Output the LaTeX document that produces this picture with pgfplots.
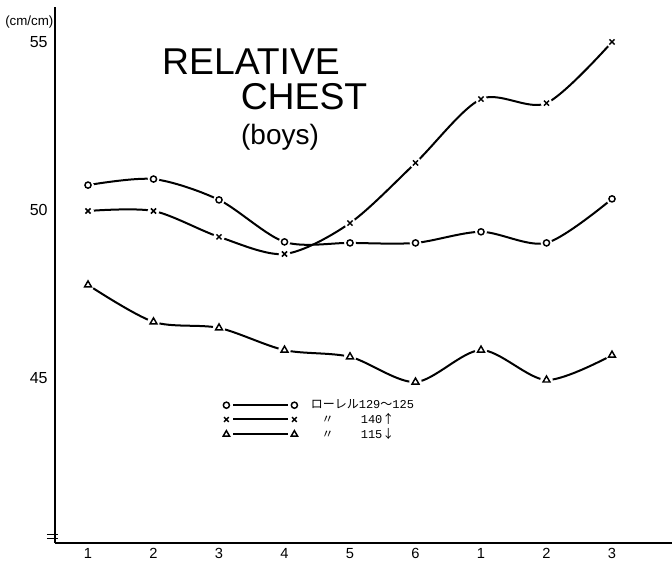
\documentclass[border=0pt]{standalone}
\usepackage{pgfplots}
\usepackage{pgfplotstable}
\pgfplotsset{compat=1.18}
\usepackage{fontspec}
\setmainfont{Liberation Sans}
\newfontfamily\cjk{Noto Sans CJK JP}
\newfontfamily\mono{Liberation Mono}

\pgfplotstableread{
x y
1 50.74
2 50.92
3 50.30
4 49.05
5 49.02
6 49.02
7 49.35
8 49.02
9 50.33
}\tabO
\pgfplotstableread{
x y
1 49.97
2 49.97
3 49.20
4 48.69
5 49.61
6 51.40
7 53.30
8 53.18
9 55.00
}\tabX
\pgfplotstableread{
x y
1 47.77
2 46.67
3 46.49
4 45.83
5 45.63
6 44.88
7 45.83
8 44.94
9 45.68
}\tabT

\begin{document}
\begin{tikzpicture}
\useasboundingbox (0,0) rectangle (504pt,420.75pt);
\begin{axis}[
  at={(41.25pt,13.5pt)}, anchor=south west,
  scale only axis, width=462.75pt, height=402pt,
  xmin=0.496, xmax=9.916, ymin=40.09, ymax=56.04,
  axis lines*=left,
  axis line style={line width=1.6pt},
  xtick={1,...,9}, xticklabels={1,2,3,4,5,6,1,2,3},
  ytick={45,50,55},
  major tick length=0pt,
  /pgf/number format/assume math mode=true,
  yticklabel style={font=\fontsize{12}{12}\selectfont, xshift=-2pt},
  xticklabel style={font=\fontsize{11}{11}\selectfont, yshift=-0.5pt},
  clip=false,
  legend cell align=left,
  legend style={draw=none, fill=none, at={(0.2723,0.2295)}, anchor=west,
    inner sep=0pt, row sep=0pt, column sep=9pt,
    nodes={inner sep=1pt},
    font=\fontsize{9}{10}\selectfont},
]
% circles
\addplot[line width=1.5pt, smooth, forget plot] table {\tabO};
\addplot[only marks, mark=*, mark size=4.2pt, white, forget plot] table {\tabO};
\addplot[only marks, mark=o, mark size=2.3pt, black, line width=1.1pt,
  legend image code/.code={
    \draw[line width=1.3pt] (5pt,0pt) -- (46pt,0pt);
    \draw[only marks, mark=o, mark size=2.3pt, line width=1.1pt] plot coordinates {(0pt,0pt) (51pt,0pt)};
  }] table {\tabO};
\addlegendentry{{\cjk ローレル}{\mono 129}{\cjk ～}{\mono 125}}
% crosses
\addplot[line width=1.5pt, smooth, forget plot] table {\tabX};
\addplot[only marks, mark=*, mark size=4.2pt, white, forget plot] table {\tabX};
\addplot[only marks, mark=x, mark size=2.7pt, black, line width=1.1pt,
  legend image code/.code={
    \draw[line width=1.3pt] (5pt,0.3pt) -- (46pt,0.3pt);
    \draw[only marks, mark=x, mark size=2.5pt, line width=1.1pt] plot coordinates {(0pt,0pt) (51pt,0pt)};
  }] table {\tabX};
\addlegendentry{\makebox[25pt][c]{\cjk 〃}\hspace{12.5pt}{\mono 140}{\cjk ↑}}
% triangles
\addplot[line width=1.5pt, smooth, forget plot] table {\tabT};
\addplot[only marks, mark=*, mark size=4.4pt, white, forget plot] table {\tabT};
\addplot[only marks, mark=triangle, mark size=3pt, black, line width=1.1pt,
  legend image code/.code={
    \draw[line width=1.3pt] (5pt,0pt) -- (46pt,0pt);
    \draw[only marks, mark=triangle, mark size=2.7pt, line width=1.1pt] plot coordinates {(0pt,0pt) (51pt,0pt)};
  }] table {\tabT};
\addlegendentry{\makebox[25pt][c]{\cjk 〃}\hspace{12.5pt}{\mono 115}{\cjk ↓}}

% title
\node[font=\fontsize{28}{28}\selectfont, inner sep=0pt] at (rel axis cs:0.3177,0.8983) {RELATIVE};
\node[font=\fontsize{28}{28}\selectfont, inner sep=0pt] at (rel axis cs:0.4036,0.833) {CHEST};
\node[font=\fontsize{21}{21}\selectfont, inner sep=0pt] at (rel axis cs:0.3647,0.7575) {(boys)};
% unit label
\node[anchor=east, inner sep=0pt, font=\fontsize{10}{10}\selectfont] at ([xshift=-1pt]rel axis cs:0,0.972) {(cm/cm)};
% axis break mark
\draw[line width=1pt] ([xshift=-6pt]rel axis cs:0,0.016) -- ([xshift=2pt]rel axis cs:0,0.016);
\draw[line width=1pt] ([xshift=-6pt]rel axis cs:0,0.008) -- ([xshift=2pt]rel axis cs:0,0.008);
\end{axis}
\end{tikzpicture}
\end{document}
